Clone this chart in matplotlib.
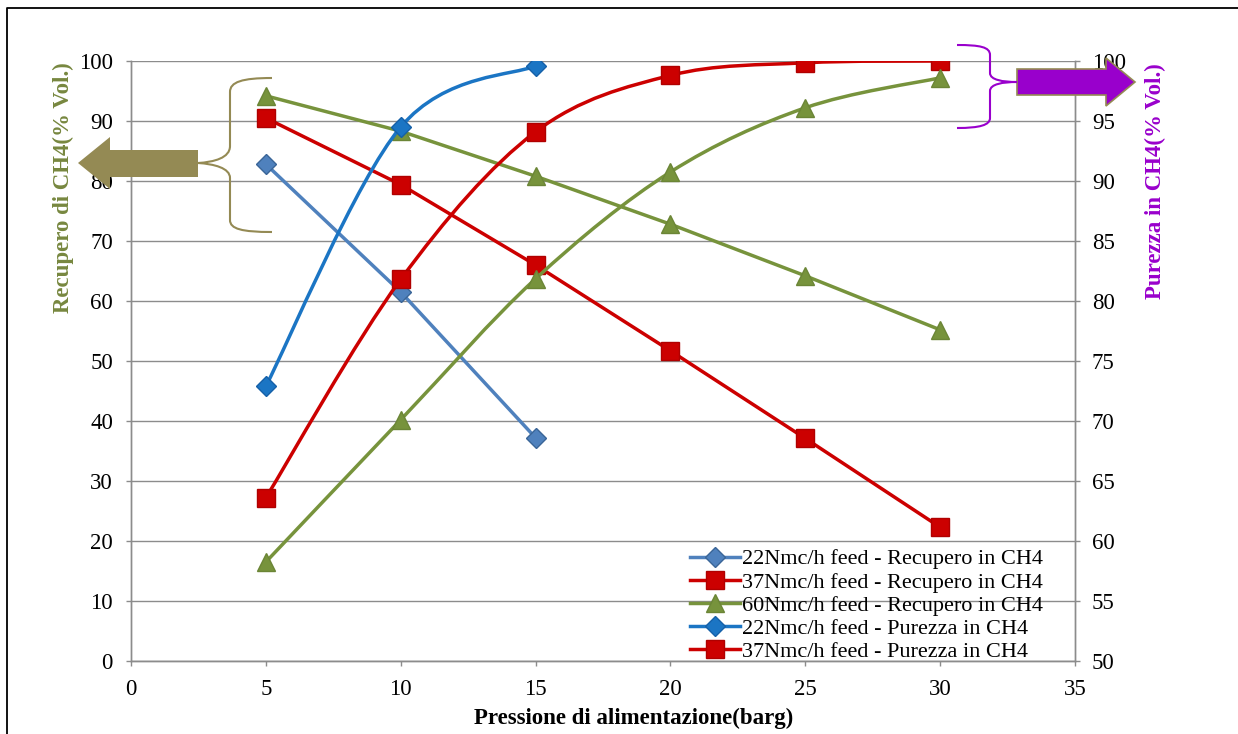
import numpy as np
import matplotlib
matplotlib.use('Agg')
import matplotlib.pyplot as plt
from matplotlib.path import Path
from matplotlib.patches import PathPatch, Polygon
from matplotlib.lines import Line2D

plt.rcParams['font.family'] = 'serif'
plt.rcParams['font.serif'] = ['Liberation Serif', 'DejaVu Serif']

# data
press_22 = [5, 10, 15]
press = [5, 10, 15, 20, 25, 30]
rec_22 = [82.8, 61.5, 37.2]
rec_37 = [90.5, 79.4, 66.0, 51.7, 37.1, 22.3]
rec_60 = [94.2, 88.3, 80.8, 72.8, 64.2, 55.2]
pur_22 = [72.9, 94.5, 99.6]
pur_37 = [63.6, 81.8, 94.1, 98.8, 99.85, 100.0]
pur_60 = [58.25, 70.1, 81.85, 90.75, 96.1, 98.6]

c_blue1 = '#4F81BD'
c_red = '#CC0000'
c_green = '#77933C'
c_blue2 = '#1B75C4'
c_olive = '#948A54'
c_purple = '#9900CC'
c_grid = '#8C8C8C'


def smooth_path(x, y):
    # excel-like smoothed line (catmull-rom bezier through the points)
    pts = np.column_stack([x, y]).astype(float)
    n = len(pts)
    verts = [pts[0]]
    codes = [Path.MOVETO]
    for i in range(n - 1):
        p0 = pts[max(i - 1, 0)]
        p1 = pts[i]
        p2 = pts[i + 1]
        p3 = pts[min(i + 2, n - 1)]
        verts += [p1 + (p2 - p0) / 6, p2 - (p3 - p1) / 6, p2]
        codes += [Path.CURVE4] * 3
    return Path(verts, codes)


fig = plt.figure(figsize=(12.38, 7.34), dpi=100)
ax = fig.add_axes([131 / 1238, 1 - 661 / 734, (1075 - 131) / 1238, 600 / 734])
ax2 = ax.twinx()

lw = 2.5
st_22r = dict(color=c_blue1, marker='D', ms=10, mec='#3A6597')
st_37 = dict(color=c_red, marker='s', ms=12.5, mec='#B00000')
st_60 = dict(color=c_green, marker='^', ms=13, mec='#6B8536')
st_22p = dict(color=c_blue2, marker='D', ms=10, mec='#1560A8')

ax.plot(press_22, rec_22, lw=lw, zorder=3, **st_22r)
ax.plot(press, rec_37, lw=lw, zorder=3, **st_37)
ax.plot(press, rec_60, lw=lw, zorder=3, **st_60)

for xs, ys, st in [(press_22, pur_22, st_22p), (press, pur_37, st_37), (press, pur_60, st_60)]:
    ax2.add_patch(PathPatch(smooth_path(xs, ys), facecolor='none', edgecolor=st['color'],
                            lw=lw, capstyle='round', zorder=3))
    ax2.plot(xs, ys, ls='none', zorder=4, **st)

ax.set_xlim(0, 35)
ax.set_ylim(0, 100)
ax2.set_ylim(50, 100)
ax.set_xticks(np.arange(0, 36, 5))
ax.set_yticks(np.arange(0, 101, 10))
ax2.set_yticks(np.arange(50, 101, 5))
ax.grid(axis='y', color=c_grid, lw=1)
ax.set_axisbelow(True)

for a in (ax, ax2):
    for s in a.spines.values():
        s.set_color(c_grid)
        s.set_linewidth(1)
    a.spines['top'].set_visible(False)
    a.tick_params(colors=c_grid, labelcolor='black', labelsize=16.5, length=3.6, width=1)
ax.tick_params(axis='y', pad=9.4)
ax.tick_params(axis='x', pad=9.3)
ax2.tick_params(axis='y', pad=8.5)

fig.text(634 / 1238, 1 - 718 / 734, 'Pressione di alimentazione(barg)', ha='center', va='center',
         fontsize=16.5, fontweight='bold')
fig.text(63 / 1238, 1 - 188 / 734, 'Recupero di CH4(% Vol.)', rotation=90, ha='center', va='center',
         fontsize=16.5, fontweight='bold', color='#77873F')
fig.text(1155 / 1238, 1 - 181 / 734, 'Purezza in CH4(% Vol.)', rotation=90, ha='center', va='center',
         fontsize=16.5, fontweight='bold', color=c_purple)

handles = [Line2D([0], [0], lw=lw, **st_22r), Line2D([0], [0], lw=lw, **st_37),
           Line2D([0], [0], lw=lw, **st_60), Line2D([0], [0], lw=lw, **st_22p),
           Line2D([0], [0], lw=lw, **st_37)]
labels = ['22Nmc/h feed - Recupero in CH4', '37Nmc/h feed - Recupero in CH4',
          '60Nmc/h feed - Recupero in CH4', '22Nmc/h feed - Purezza in CH4',
          '37Nmc/h feed - Purezza in CH4']
ax2.legend(handles, labels, loc='lower left', bbox_to_anchor=(0.592, -0.002), frameon=False,
           fontsize=16, handlelength=2.25, handletextpad=0.1, labelspacing=0.12,
           borderpad=0, borderaxespad=0)

# overlay for arrows, braces and the frame
ov = fig.add_axes([0, 0, 1, 1], zorder=10)
ov.set_xlim(0, 1238)
ov.set_ylim(734, 0)
ov.axis('off')
ov.patch.set_alpha(0)

ov.plot([7, 7, 1238], [734, 8, 8], color='black', lw=1.3)

ov.add_patch(Polygon([(78, 163), (110, 137), (110, 150), (198, 150), (198, 177),
                      (110, 177), (110, 189)], closed=True, facecolor=c_olive, edgecolor='none'))
ov.add_patch(Polygon([(1017, 69), (1106, 69), (1106, 58), (1135, 82), (1106, 106),
                      (1106, 95), (1017, 95)], closed=True, facecolor=c_purple,
                     edgecolor=c_olive, lw=1.2))

C4 = Path.CURVE4
brace_l = Path([(272, 78), (242, 78), (230, 82), (230, 92), (230, 146),
                (230, 158), (214, 162), (198, 163),
                (214, 164), (230, 168), (230, 178), (230, 220),
                (230, 229), (242, 232), (272, 232)],
               [Path.MOVETO, C4, C4, C4, Path.LINETO, C4, C4, C4,
                C4, C4, C4, Path.LINETO, C4, C4, C4])
ov.add_patch(PathPatch(brace_l, facecolor='none', edgecolor=c_olive, lw=1.5))

brace_r = Path([(957, 45), (980, 45), (990, 47), (990, 55), (990, 73),
                (990, 80), (1003, 82), (1017, 82),
                (1003, 82), (990, 84), (990, 91), (990, 118),
                (990, 125), (980, 128), (957, 128)],
               [Path.MOVETO, C4, C4, C4, Path.LINETO, C4, C4, C4,
                C4, C4, C4, Path.LINETO, C4, C4, C4])
ov.add_patch(PathPatch(brace_r, facecolor='none', edgecolor=c_purple, lw=1.5))

fig.savefig('out.png', dpi=100)
